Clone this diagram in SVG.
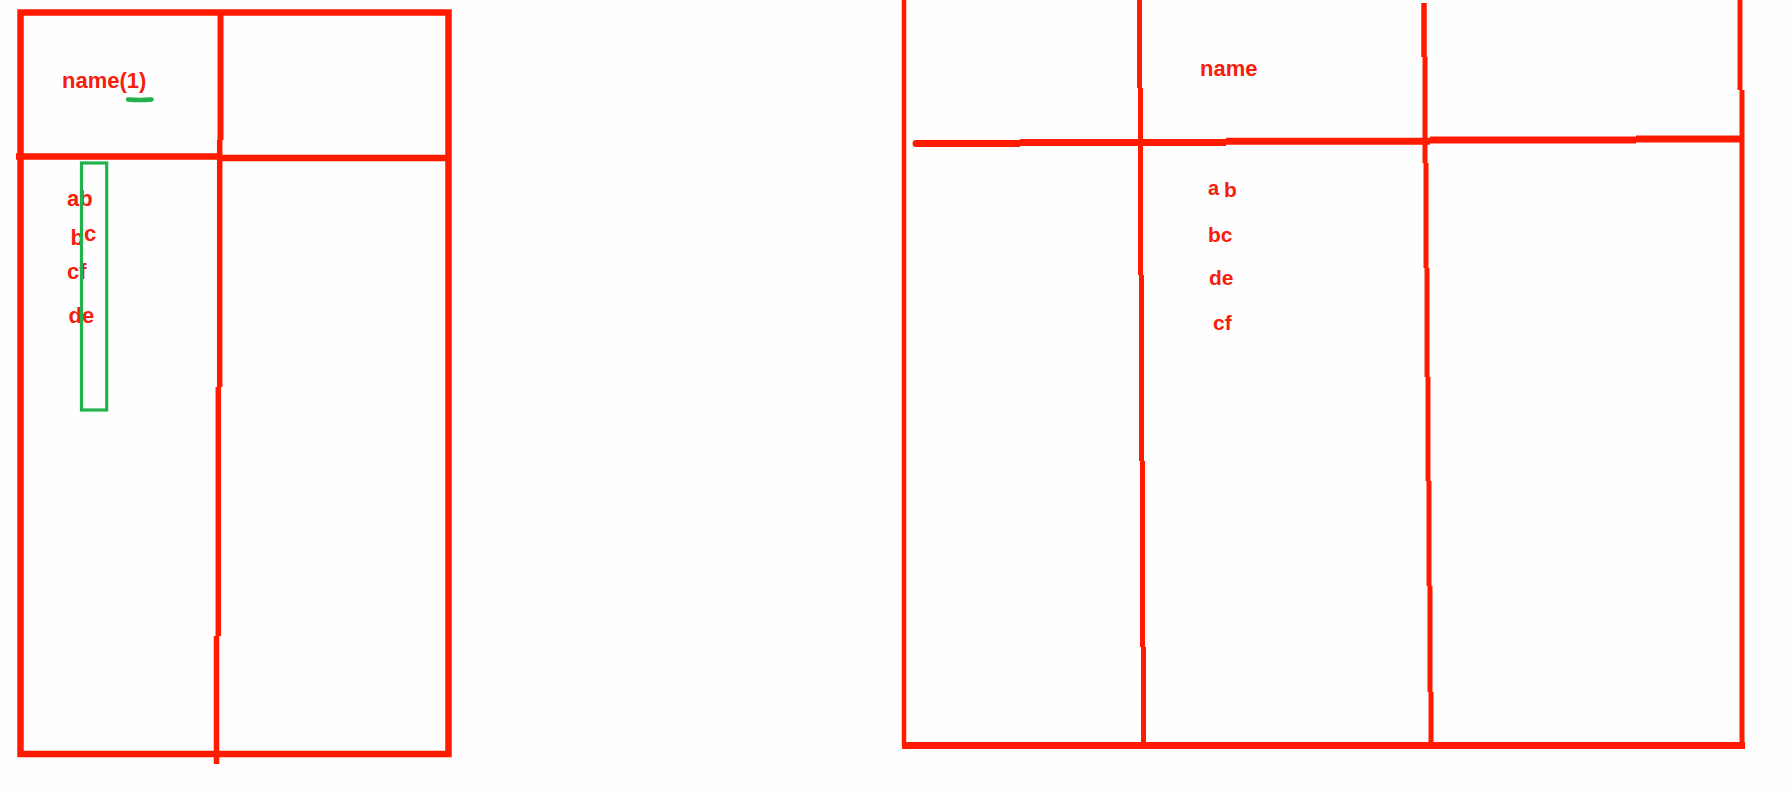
<svg xmlns="http://www.w3.org/2000/svg" width="1792" height="794" viewBox="0 0 1792 794">
<style>
.ln{fill:none;stroke:#ff1a00;stroke-linecap:butt}
.t{font-family:"Liberation Sans",Arial,sans-serif;font-weight:bold;fill:#f4200c}
.g{fill:none;stroke:#22b14c}
</style>
<rect width="1792" height="794" fill="#fefefe"/>
<g id="left-table">
<rect class="ln" x="20.5" y="12.5" width="428" height="741.5" stroke-width="6.5"/>
<path class="ln" stroke-width="6.5" d="M16 156.5H222M222 158H448"/>
<path class="ln" stroke-width="6" d="M220.5 12V140"/>
<path class="ln" stroke-width="5.5" d="M219.7 140V387M218.3 387V636M216.5 636V764"/>
</g>
<g id="left-texts">
<text class="t" x="62" y="87.5" font-size="22">name(1)</text>
<text class="t" x="67" y="205.5" font-size="22">ab</text>
<text class="t" x="70.5" y="245" font-size="22">b</text>
<text class="t" x="84" y="241" font-size="22">c</text>
<text class="t" x="67" y="279" font-size="22">cf</text>
<text class="t" x="68.5" y="322.5" font-size="22">de</text>
</g>
<g id="green-marks">
<rect class="g" x="81.5" y="163" width="25.2" height="247" stroke-width="3.2"/>
<path class="g" stroke-width="4.5" stroke-linecap="round" d="M128 99.5Q140 100.5 151.5 99.5"/>
</g>
<g id="right-table">
<path class="ln" stroke-width="4.5" d="M904 0V746"/>
<path class="ln" stroke-width="7" d="M916 143.5H1020M1020 142.5H1226M1226 141.3H1430M1430 140H1636M1636 139H1742"/>
<circle cx="916" cy="143.5" r="3.5" fill="#ff1a00"/>
<path class="ln" stroke-width="5" d="M1139.5 0V88M1140.5 88V275M1141.5 275V461M1142.5 461V647M1143.5 647V745"/>
<path class="ln" stroke-width="5.5" stroke-linecap="round" d="M1424 3V57"/>
<path class="ln" stroke-width="5" d="M1425 57V163M1426 163V268M1427 268V377M1428 377V481M1429 481V586M1430 586V692M1431 692V745"/>
<path class="ln" stroke-width="5" d="M1740 0V90M1742 90V745"/>
<path class="ln" stroke-width="7" d="M902 745.5H1745"/>
</g>
<g id="right-texts">
<text class="t" x="1200" y="75.5" font-size="22">name</text>
<text class="t" x="1208" y="194.5" font-size="20">a</text>
<text class="t" x="1224" y="196.5" font-size="21">b</text>
<text class="t" x="1208" y="241.5" font-size="21">bc</text>
<text class="t" x="1209" y="285" font-size="21">de</text>
<text class="t" x="1213" y="330" font-size="21">cf</text>
</g>
</svg>
